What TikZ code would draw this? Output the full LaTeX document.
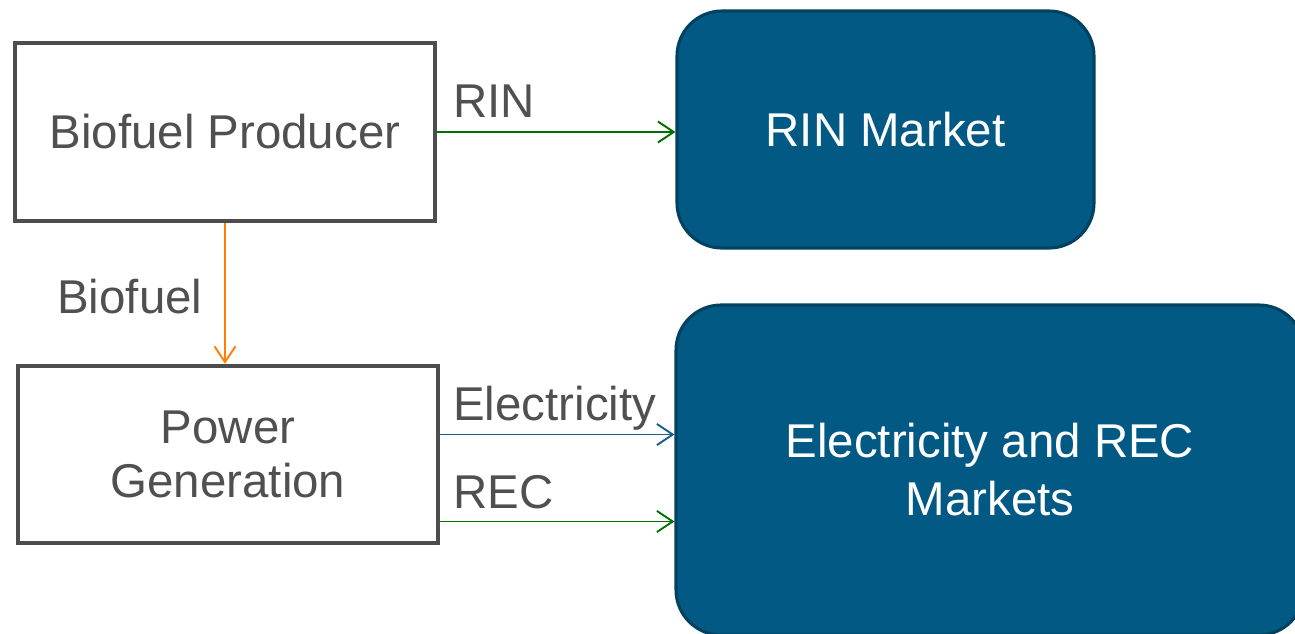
\documentclass[tikz,border=0pt]{standalone}
\usepackage{fontspec}
\setmainfont{Liberation Sans}
\usepackage{tikz}
\usetikzlibrary{arrows.meta,positioning}
\definecolor{boxgray}{HTML}{4D4D4D}
\definecolor{txtgray}{HTML}{505050}
\definecolor{mktblue}{HTML}{025A84}
\definecolor{mktedge}{HTML}{00425F}
\definecolor{flowgreen}{HTML}{007000}
\definecolor{floworange}{HTML}{FF8000}
\definecolor{flowblue}{HTML}{1B5E8C}

\begin{document}
\begin{tikzpicture}[
    x=0.02cm, y=-0.02cm,
    proc/.style={rectangle, draw=boxgray, line width=2.2pt, fill=white, minimum width=8.4cm, minimum height=3.55cm, inner sep=0pt, align=center, text=txtgray, font=\fontsize{27}{31}\selectfont},
    market/.style={rectangle, draw=mktedge, line width=1.8pt, fill=mktblue, rounded corners=0.9cm, inner sep=0pt, align=center, text=white, font=\fontsize{27}{33}\selectfont},
    flow/.style={-{Straight Barb[length=9pt, width=12pt]}, line width=1.1pt},
    flowlbl/.style={anchor=base west, inner sep=0pt, text=txtgray, font=\fontsize{27}{31}\selectfont}
]

\useasboundingbox (0,0) rectangle (1295,633);

% Producer side - left column
\node[proc] (producer) at (225, 132) {Biofuel Producer};
\node[proc] (power) at (228, 454.5) {Power\\Generation};

% Markets - right column
\node[market, minimum width=8.34cm, minimum height=4.74cm] (rinmkt) at (885.5, 129.5) {RIN Market};
\node[market, minimum width=12.56cm, minimum height=6.6cm] (elecmkt) at (990, 470) {Electricity and REC\\Markets};

% Flows
\draw[flow, flowgreen] (producer.east) -- (producer.east -| rinmkt.west);
\draw[flow, floworange] (producer.south) -- (producer.south |- power.north);
\draw[flow, flowblue] ([yshift=0.4cm]power.east) -- ([yshift=0.4cm]power.east -| elecmkt.west);
\draw[flow, flowgreen] ([yshift=-1.34cm]power.east) -- ([yshift=-1.34cm]power.east -| elecmkt.west);

% Flow labels
\node[flowlbl] (rinlbl) at (453, 117) {RIN};
\node[flowlbl] (biolbl) at (57, 313) {Biofuel};
\node[flowlbl] (eleclbl) at (453, 420) {Electricity};
\node[flowlbl] (reclbl) at (453, 508) {REC};

\end{tikzpicture}
\end{document}
